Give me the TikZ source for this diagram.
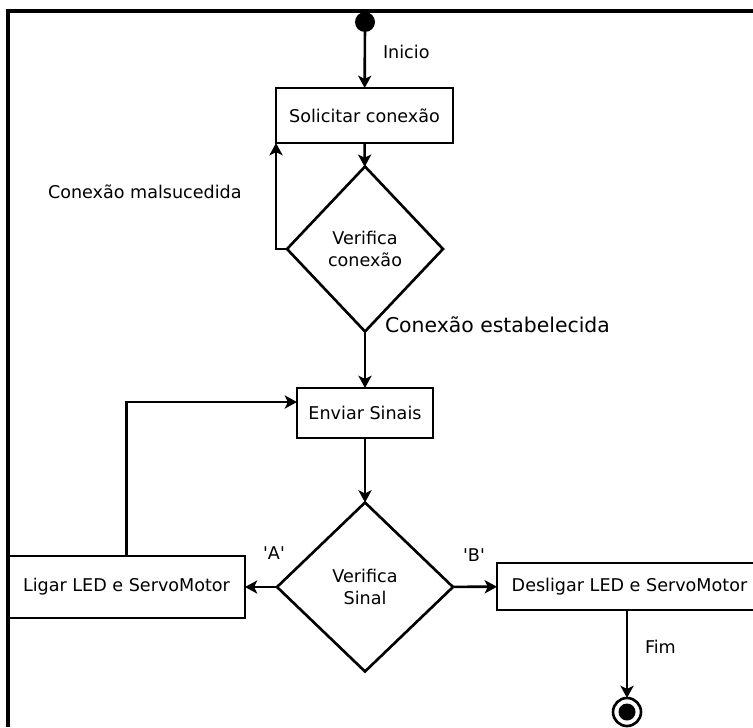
\documentclass[tikz,border=0pt]{standalone}
\usepackage{fontspec}
\setmainfont{DejaVu Sans}
\usetikzlibrary{shapes.geometric,arrows.meta}

\begin{document}
\begin{tikzpicture}[x=0.02cm, y=-0.02cm, line width=1.5pt,
    every node/.style={font=\fontsize{10}{13}\selectfont, outer sep=0pt},
    arr/.style={-{Stealth[length=7pt, width=7.5pt, inset=1.8pt]}},
    box/.style={draw, rectangle, inner sep=2pt},
    test/.style={draw, diamond, inner sep=0pt, align=center},
    lbl/.style={inner sep=0pt}]
    \useasboundingbox (0,0) rectangle (753,727);
    \draw[line width=2pt] (8,727) -- (8,11) -- (753,11);

    \node[circle, fill=black, inner sep=0pt, minimum size=0.4cm] (start) at (365,22) {};
    \node[box, minimum width=3.54cm, minimum height=1.1cm] (solicitar) at (364.5,115.5) {Solicitar conexão};
    \node[test, minimum width=3.12cm, minimum height=3.3cm] (vercon) at (365,249) {Verifica\\conexão};
    \node[box, minimum width=2.72cm, minimum height=1.0cm] (enviar) at (365,413) {Enviar Sinais};
    \node[test, minimum width=3.52cm, minimum height=3.38cm] (versinal) at (365,587) {Verifica\\Sinal};
    \node[box, minimum width=4.74cm, minimum height=1.24cm] (ligar) at (126.5,587) {Ligar LED e ServoMotor};
    \node[box, minimum width=5.3cm, minimum height=0.94cm, anchor=west] (desligar) at (497,586.5) {Desligar LED e ServoMotor};
    \node[circle, draw, inner sep=0pt, minimum size=0.56cm] (fim) at (627,712) {};
    \node[circle, fill=black, inner sep=0pt, minimum size=0.34cm] (fimdot) at (fim) {};
    \coordinate (loopin) at (297,402);

    \node[lbl, anchor=west] (inicio) at (383,52) {Inicio};
    \node[lbl, anchor=west] (falha) at (48,192) {Conexão malsucedida};
    \node[lbl, anchor=west, font=\fontsize{11.6}{14}\selectfont] (ok) at (385,325) {Conexão estabelecida};
    \node[lbl] (opta) at (274,553) {\textquotesingle A\textquotesingle};
    \node[lbl] (optb) at (474,555) {\textquotesingle B\textquotesingle};
    \node[lbl, anchor=west] (fimlbl) at (645,647) {Fim};

    \draw[arr] (start) -- (solicitar);
    \draw[arr] (solicitar) -- (vercon);
    \draw[arr] (vercon.west) -| (solicitar.south west);
    \draw[arr] (vercon) -- (enviar);
    \draw[arr] (enviar) -- (versinal);
    \draw[arr] (versinal) -- (ligar);
    \draw[arr] (versinal) -- (desligar);
    \draw[arr] (ligar.north) |- (loopin);
    \draw[arr] (desligar.south -| fim) -- (fim);
\end{tikzpicture}
\end{document}
